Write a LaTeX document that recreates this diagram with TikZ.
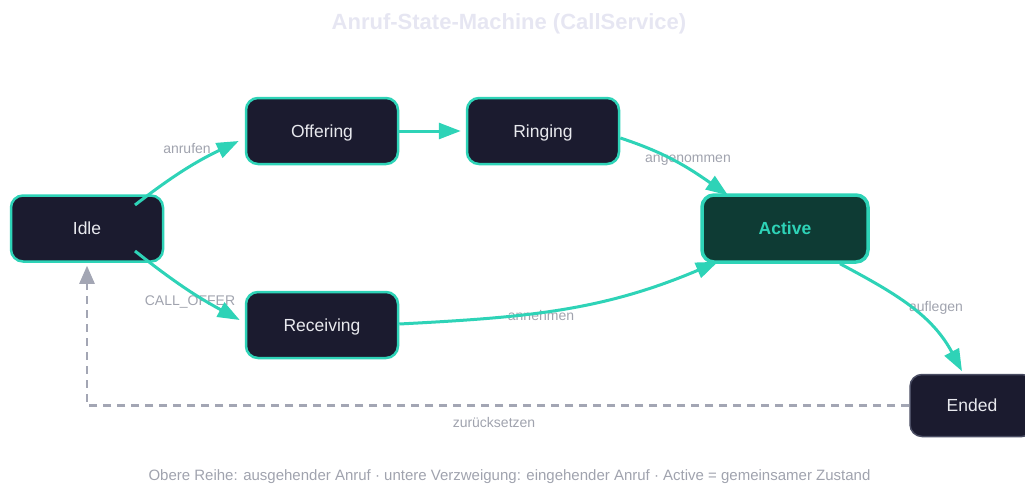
\documentclass[tikz,border=0pt]{standalone}
\usepackage{fontspec}
\setmainfont{Liberation Sans}
\usetikzlibrary{arrows.meta,calc}
\definecolor{teal1}{HTML}{2ED3B7}
\definecolor{navy}{HTML}{1B1B2F}
\definecolor{actfill}{HTML}{0E3B34}
\definecolor{nodetext}{HTML}{E8E9EE}
\definecolor{lblgrey}{HTML}{A0A3AE}
\definecolor{titlegrey}{HTML}{E6E6F2}
\definecolor{dashgrey}{HTML}{A3A6B4}
\definecolor{endborder}{HTML}{4A4D63}
\tikzset{
  state/.style={draw=teal1, line width=2.5pt, fill=navy, rounded corners=12pt,
    minimum width=152pt, minimum height=66pt, inner sep=0pt, text=nodetext,
    text height=12.4pt, text depth=0pt,
    font=\fontsize{17.5}{20}\selectfont},
  activestate/.style={state, fill=actfill, line width=3.5pt, minimum width=166pt,
    minimum height=67pt, text=teal1, font=\fontsize{17.5}{20}\selectfont\bfseries},
  endstate/.style={state, draw=endborder, line width=1.5pt, minimum width=124pt, minimum height=62pt},
  trans/.style={draw=teal1, line width=3pt, -{Triangle[length=22pt,width=16pt]}},
  resetline/.style={draw=dashgrey, line width=2.5pt, dash pattern=on 8pt off 6pt,
    -{Triangle[length=18pt,width=15pt]}},
  lbl/.style={text=lblgrey, font=\fontsize{14}{16}\selectfont, inner sep=0pt},
}
\begin{document}
\begin{tikzpicture}[x=1pt,y=-1pt]
\useasboundingbox (0,0) rectangle (1025,487);
% title
\node[text=titlegrey, font=\fontsize{22}{24}\selectfont\bfseries] (title) at (509,24) {Anruf-State-Machine (CallService)};
% labels (under connectors)
\node[lbl] (lanrufen) at (187,149) {anrufen};
\node[lbl] (lcall) at (190,302) {CALL\_OFFER};
\node[lbl] (langen) at (688,160) {angenommen};
\node[lbl] (lannehmen) at (541,315) {annehmen};
\node[lbl] (lauflegen) at (936,308) {auflegen};
\node[lbl] (lreset) at (494,422) {zurücksetzen};
% states
\node[state] (idle) at (87,228.5) {Idle};
\node[state] (offering) at (322,131) {Offering};
\node[state] (ringing) at (543,131) {Ringing};
\node[state] (receiving) at (322,325) {Receiving};
\node[activestate] (active) at (785,228.5) {Active};
\node[endstate] (ended) at (972,405.5) {Ended};
% connectors
\draw[trans] ($(idle.center)+(48,-23.5)$) to[bend left=6] ($(offering.west)+(-6,10)$);
\draw[trans] (offering.east) -- ($(ringing.west)+(-5,0)$);
\draw[trans] ($(ringing.east)+(0,7)$) to[out=-18,in=145] ($(active.north)+(-57,2)$);
\draw[trans] ($(idle.center)+(48,22.5)$) to[bend right=5] ($(receiving.west)+(-5,-5)$);
\draw[trans] ($(receiving.east)+(0,-1)$) to[out=3,in=203] ($(active.south)+(-67,-2)$);
\draw[trans] ($(active.south)+(55,0)$) to[out=-28,in=118] ($(ended.north)+(-10,-2.5)$);
\draw[resetline] (ended.west) -| ($(idle.south)+(0,3)$);
% caption
\node[text=lblgrey, font=\fontsize{15}{17}\selectfont] (caption) at (509.5,477) {Obere Reihe: ausgehender Anruf · untere Verzweigung: eingehender Anruf · Active = gemeinsamer Zustand};
\end{tikzpicture}
\end{document}
